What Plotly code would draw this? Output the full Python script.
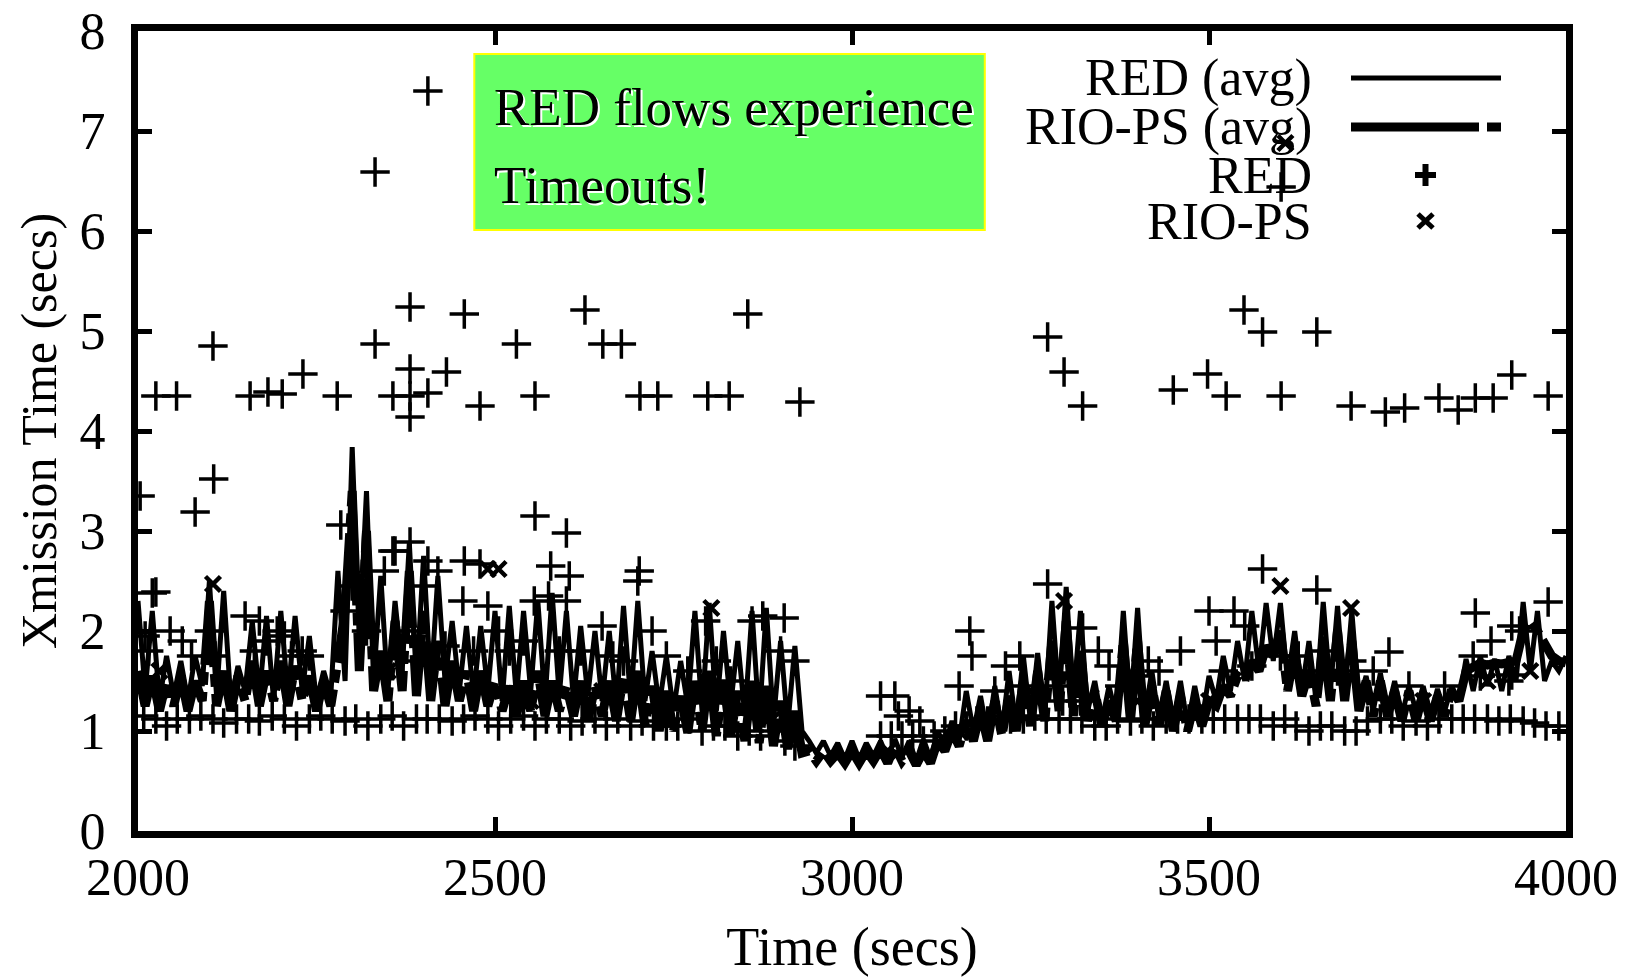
import plotly.graph_objects as go

# ---------------- data ----------------
T_AVG = list(range(2000, 4001, 10))

RED_AVG = [
    2.3, 1.4, 2.2, 1.3, 1.75, 1.35, 1.7, 1.3, 1.75, 1.45,
    2.5, 1.35, 2.4, 1.3, 1.65, 1.4, 2.1, 1.35, 2.15, 1.3,
    2.2, 1.35, 2.15, 1.4, 1.95, 1.3, 1.6, 1.35, 2.6, 1.5,
    3.84, 1.9, 3.4, 1.5, 2.55, 1.4, 2.3, 1.6, 2.88, 1.5,
    2.75, 1.45, 2.55, 1.5, 2.1, 1.4, 2.05, 1.35, 2.05, 1.4,
    2.2, 1.3, 2.25, 1.35, 2.2, 1.4, 2.3, 1.3, 2.38, 1.35,
    2.2, 1.3, 2.05, 1.35, 2.0, 1.3, 2.0, 1.25, 2.25, 1.3,
    2.3, 1.3, 1.8, 1.25, 1.75, 1.2, 1.7, 1.25, 2.2, 1.2,
    2.28, 1.2, 2.0, 1.25, 1.9, 1.15, 2.2, 1.1, 2.23, 1.1,
    1.9, 1.05, 1.85, 1.0, 0.9, 0.78, 0.9, 0.75, 0.88, 0.72,
    0.9, 0.72, 0.88, 0.75, 0.9, 0.72, 0.92, 0.74, 0.9, 0.7,
    0.92, 0.72, 1.0, 0.85, 1.1, 0.9, 1.4, 1.0, 1.35, 0.95,
    1.45, 1.0, 1.6, 1.05, 1.75, 1.1, 1.78, 1.15, 2.3, 1.3,
    2.44, 1.3, 2.2, 1.2, 1.5, 1.1, 1.45, 1.15, 2.2, 1.2,
    2.23, 1.15, 1.6, 1.1, 1.5, 1.1, 1.5, 1.05, 1.45, 1.1,
    1.55, 1.3, 1.75, 1.4, 1.9, 1.5, 2.2, 1.6, 2.28, 1.7,
    2.28, 1.5, 2.0, 1.4, 1.9, 1.3, 2.29, 1.4, 2.25, 1.35,
    2.2, 1.3, 1.55, 1.2, 1.58, 1.2, 1.5, 1.15, 1.45, 1.2,
    1.45, 1.15, 1.42, 1.2, 1.45, 1.3, 1.72, 1.4, 1.75, 1.45,
    1.72, 1.4, 1.75, 1.5, 2.29, 1.6, 2.2, 1.5, 1.7, 1.6,
    1.75,
]

RIO_AVG = [
    1.6, 1.25, 1.55, 1.2, 1.5, 1.25, 1.55, 1.2, 1.5, 1.3,
    2.3, 1.25, 1.6, 1.2, 1.55, 1.3, 1.7, 1.25, 1.6, 1.3,
    1.7, 1.25, 1.65, 1.3, 1.55, 1.2, 1.5, 1.25, 1.7, 2.2,
    3.4, 1.6, 3.0, 1.4, 1.8, 1.3, 2.1, 1.4, 2.6, 1.35,
    2.2, 1.3, 1.9, 1.25, 1.7, 1.3, 1.6, 1.2, 1.6, 1.25,
    1.5, 1.2, 1.45, 1.15, 1.5, 1.2, 1.6, 1.15, 1.5, 1.2,
    1.45, 1.15, 1.5, 1.1, 1.45, 1.15, 1.5, 1.1, 1.55, 1.1,
    1.6, 1.05, 1.45, 1.0, 1.4, 1.0, 1.35, 0.98, 1.5, 1.0,
    1.6, 0.95, 1.5, 0.95, 1.4, 0.9, 1.5, 0.88, 1.45, 0.85,
    1.3, 0.82, 1.2, 0.78, 0.8, 0.7, 0.8, 0.7, 0.78, 0.68,
    0.8, 0.68, 0.8, 0.7, 0.82, 0.68, 0.85, 0.7, 0.8, 0.66,
    0.8, 0.68, 0.9, 0.8, 1.0, 0.85, 1.1, 0.9, 1.2, 0.9,
    1.3, 0.95, 1.35, 1.0, 1.5, 1.05, 1.6, 1.1, 1.9, 1.2,
    2.1, 1.15, 1.8, 1.1, 1.4, 1.05, 1.3, 1.1, 1.9, 1.1,
    1.9, 1.05, 1.45, 1.05, 1.4, 1.0, 1.35, 1.0, 1.3, 1.05,
    1.3, 1.25, 1.45, 1.35, 1.55, 1.5, 1.7, 1.6, 1.85, 1.75,
    2.0, 1.4, 1.8, 1.35, 1.6, 1.25, 1.9, 1.3, 2.0, 1.3,
    1.9, 1.2, 1.5, 1.15, 1.5, 1.15, 1.4, 1.1, 1.4, 1.1,
    1.38, 1.1, 1.35, 1.15, 1.42, 1.3, 1.6, 1.65, 1.68, 1.66,
    1.68, 1.67, 1.68, 1.7, 2.0, 2.1, 2.0, 1.85, 1.75, 1.7,
    1.68,
]

# RED individual samples: timeouts (upper cloud)
RED_TIMEOUT_T = [2025, 2054, 2105, 2106, 2080, 2157, 2182, 2202, 2231, 2279,
                 2332, 2332, 2357, 2381, 2381, 2381, 2381, 2406, 2406, 2432,
                 2457, 2479, 2530, 2556, 2626, 2651, 2677, 2703, 2728, 2798,
                 2828, 2854, 2927, 3274, 3297, 3323, 3450, 3498, 3524, 3549,
                 3575, 3601, 3651, 3699, 3747, 3774, 3822, 3849, 3873, 3898,
                 3924, 3975, 3601, 2003]
RED_TIMEOUT_Y = [4.35, 4.35, 4.85, 3.52, 3.19, 4.35, 4.39, 4.37, 4.57, 4.35,
                 6.59, 4.87, 4.35, 5.24, 4.62, 4.35, 4.14, 7.40, 4.38, 4.59,
                 5.17, 4.25, 4.87, 4.35, 5.21, 4.87, 4.87, 4.35, 4.35, 4.35,
                 4.35, 5.17, 4.29, 4.94, 4.59, 4.25, 4.41, 4.57, 4.35, 5.21,
                 4.99, 4.35, 4.99, 4.25, 4.19, 4.23, 4.33, 4.21, 4.33, 4.33,
                 4.56, 4.35, 6.44, 3.35]

# RED samples in the middle band
RED_MID_T = [2284, 2357, 2381, 2406, 2457, 2479, 2556, 2578, 2600, 2604,
             2702, 3274, 3323, 3575, 3651, 2025, 2905, 3873, 3924, 3975,
             3752, 3924,
             2010, 2015, 2020, 2045, 2062, 2075, 2100, 2108, 2150, 2163,
             2170, 2180, 2195, 2205, 2215, 2230, 2240, 2290, 2300, 2320,
             2345, 2360, 2372, 2385, 2390, 2400, 2420, 2430, 2455, 2470,
             2490, 2505, 2520, 2540, 2555, 2575, 2590, 2600, 2620, 2650,
             2665, 2680, 2700, 2720, 2740, 2770, 2795, 2810, 2830, 2860,
             2875, 2900, 2920, 3040, 3060, 3065, 3080, 3095, 3165, 3168,
             3150, 3200, 3215, 3235, 3240, 3285, 3295, 3320, 3345, 3360,
             3375, 3400, 3415, 3430, 3460, 3500, 3510, 3520, 3535, 3550,
             3560, 3600, 3625, 3640, 3660, 3680, 3700, 3730, 3780, 3830,
             3870, 3880, 3895, 3920, 3935]
RED_MID_Y = [3.06, 2.80, 2.89, 2.70, 2.70, 2.67, 3.15, 2.65, 2.98, 2.55,
             2.60, 2.47, 2.03, 2.62, 2.41, 2.39, 2.13, 2.18, 2.05, 2.29,
             1.79, 1.56,
             1.95, 1.80, 2.38, 2.00, 1.90, 1.75, 2.00, 1.75, 2.15, 1.80,
             2.10, 1.90, 2.00, 1.95, 1.75, 1.80, 1.75, 2.20, 2.45, 2.00,
             2.60, 2.80, 1.90, 2.00, 1.70, 2.45, 2.60, 1.85, 2.30, 1.80,
             2.25, 2.00, 1.80, 1.90, 2.30, 2.35, 1.80, 2.30, 1.80, 2.05,
             1.75, 1.70, 2.50, 2.00, 1.75, 1.60, 2.10, 1.70, 1.50, 2.10,
             2.15, 1.80, 1.70, 1.35, 1.35, 1.15, 1.20, 1.10, 2.00, 1.75,
             1.45, 1.40, 1.65, 1.75, 1.45, 1.45, 1.30, 1.30, 1.80, 1.65,
             1.45, 1.55, 1.70, 1.60, 1.80, 2.20, 1.90, 1.60, 2.20, 2.05,
             1.65, 1.75, 1.75, 1.60, 1.80, 1.60, 1.70, 1.60, 1.45, 1.45,
             1.75, 1.55, 1.90, 1.50, 2.00]

# RED samples along the ~1 s floor
RED_BASE_T = [2008, 2025, 2040, 2055, 2072, 2088, 2105, 2120, 2138, 2155,
              2170, 2188, 2205, 2222, 2240, 2256, 2272, 2290, 2305, 2322,
              2340, 2356, 2372, 2390, 2405, 2422, 2440, 2456, 2472, 2490,
              2505, 2522, 2540, 2556, 2572, 2590, 2606, 2622, 2640, 2656,
              2672, 2690, 2706, 2722, 2740, 2756, 2772, 2790, 2806, 2822,
              2840, 2856, 2872, 2890, 2906, 2920, 3040, 3055, 3070, 3085,
              3100, 3115, 3130, 3145, 3160, 3175, 3190, 3205, 3222, 3240,
              3256, 3272, 3290, 3306, 3322, 3340, 3356, 3372, 3390, 3406,
              3422, 3440, 3456, 3472, 3490, 3506, 3522, 3540, 3556, 3572,
              3590, 3606, 3622, 3640, 3656, 3672, 3690, 3706, 3722, 3740,
              3756, 3772, 3790, 3806, 3822, 3840, 3856, 3872, 3890, 3906,
              3922, 3940, 3956, 3972, 3990]
RED_BASE_Y = [1.15, 1.12, 1.05, 1.12, 1.12, 1.15, 1.12, 1.08, 1.12, 1.12,
              1.10, 1.15, 1.12, 1.05, 1.12, 1.15, 1.12, 1.10, 1.12, 1.05,
              1.12, 1.15, 1.05, 1.12, 1.12, 1.12, 1.10, 1.12, 1.15, 1.12,
              1.05, 1.12, 1.15, 1.05, 1.12, 1.12, 1.05, 1.10, 1.12, 1.05,
              1.12, 1.05, 1.10, 1.05, 1.05, 1.05, 1.12, 1.00, 1.05, 1.05,
              0.95, 1.00, 0.95, 1.00, 0.90, 0.85, 0.95, 0.95, 0.95, 0.95,
              0.90, 0.95, 1.00, 1.05, 1.05, 1.10, 1.10, 1.15, 1.12, 1.12,
              1.15, 1.12, 1.12, 1.12, 1.12, 1.05, 1.05, 1.12, 1.10, 1.12,
              1.05, 1.12, 1.12, 1.12, 1.12, 1.12, 1.12, 1.12, 1.12, 1.12,
              1.05, 1.12, 1.05, 1.00, 1.05, 1.05, 1.00, 1.00, 1.10, 1.12,
              1.12, 1.05, 1.10, 1.05, 1.12, 1.12, 1.12, 1.12, 1.12, 1.10,
              1.12, 1.10, 1.08, 1.05, 1.05]

RIO_T = [2105, 2490, 2505, 2803, 3297, 3600, 3699, 3607,
         2030, 2200, 2350, 2550, 2650, 2900, 3050, 3150, 3250, 3400,
         3500, 3800, 3890, 3950]
RIO_Y = [2.47, 2.62, 2.62, 2.23, 2.30, 2.45, 2.23, 6.88,
         1.60, 1.50, 1.60, 1.30, 1.40, 1.20, 0.80, 1.00, 1.40, 1.30,
         1.30, 1.30, 1.50, 1.60]

X_TICKS = [2000, 2500, 3000, 3500, 4000]
Y_TICKS = [0, 1, 2, 3, 4, 5, 6, 7, 8]
LEGEND_LABELS = ["RED (avg)", "RIO-PS (avg)", "RED", "RIO-PS"]
NOTE_LINES = ["RED flows experience", "Timeouts!"]

# ---------------- figure ----------------
FONT = "Liberation Serif, Times New Roman, serif"
RED_T = RED_TIMEOUT_T + RED_MID_T + RED_BASE_T
RED_Y = RED_TIMEOUT_Y + RED_MID_Y + RED_BASE_Y

fig = go.Figure()
fig.add_trace(go.Scatter(x=T_AVG, y=RED_AVG, mode="lines", name="RED (avg)",
                         line=dict(color="black", width=5)))
fig.add_trace(go.Scatter(x=T_AVG, y=RIO_AVG, mode="lines", name="RIO-PS (avg)",
                         line=dict(color="black", width=9, dash="130px,7px,13px,7px")))
fig.add_trace(go.Scatter(x=RED_T, y=RED_Y, mode="markers", name="RED",
                         marker=dict(symbol="cross-thin", size=21,
                                     line=dict(color="black", width=3.5))))
fig.add_trace(go.Scatter(x=RIO_T, y=RIO_Y, mode="markers", name="RIO-PS",
                         marker=dict(symbol="x-thin", size=15,
                                     line=dict(color="black", width=4.5))))

# plot area in pixels
L, R, T, B = 138, 1566, 31, 831
W, H = 1629, 977


def px(fx):
    return (fx - L) / (R - L)


def py(fy):
    return (B - fy) / (B - T)


shapes = []
annotations = []

# green note box (data coordinates)
shapes.append(dict(type="rect", xref="x", yref="y", x0=2471, x1=3186, y0=6.01, y1=7.77,
                   fillcolor="#66ff66", line=dict(color="#ffff00", width=2), layer="above"))
for txt, yv in zip(NOTE_LINES, [7.24, 6.46]):
    annotations.append(dict(x=2496, y=yv, xref="x", yref="y", text=txt, showarrow=False,
                            xanchor="left", yanchor="middle",
                            font=dict(family=FONT, size=53, color="black",
                                      shadow="2px 2px 0px white")))

# manual legend (text right-aligned, samples on the right)
rows_y = [78, 127, 175, 221]
for lab, fy in zip(LEGEND_LABELS, rows_y):
    annotations.append(dict(x=px(1314), y=py(fy), xref="paper", yref="paper", text=lab,
                            showarrow=False, xanchor="right", yanchor="middle",
                            font=dict(family=FONT, size=52, color="black")))
shapes.append(dict(type="line", xref="paper", yref="paper", x0=px(1351), x1=px(1501),
                   y0=py(78), y1=py(78), line=dict(color="black", width=5)))
shapes.append(dict(type="line", xref="paper", yref="paper", x0=px(1351), x1=px(1479),
                   y0=py(127), y1=py(127), line=dict(color="black", width=9)))
shapes.append(dict(type="line", xref="paper", yref="paper", x0=px(1487), x1=px(1501),
                   y0=py(127), y1=py(127), line=dict(color="black", width=9)))
# + sample
shapes.append(dict(type="line", xref="paper", yref="paper", x0=px(1415), x1=px(1436),
                   y0=py(175), y1=py(175), line=dict(color="black", width=6)))
shapes.append(dict(type="line", xref="paper", yref="paper", x0=px(1425.5), x1=px(1425.5),
                   y0=py(164), y1=py(186), line=dict(color="black", width=6)))
# x sample
shapes.append(dict(type="line", xref="paper", yref="paper", x0=px(1418), x1=px(1433),
                   y0=py(214), y1=py(228), line=dict(color="black", width=5)))
shapes.append(dict(type="line", xref="paper", yref="paper", x0=px(1418), x1=px(1433),
                   y0=py(228), y1=py(214), line=dict(color="black", width=5)))

axis_common = dict(showline=True, linecolor="black", linewidth=7, mirror="allticks",
                   ticks="inside", ticklen=14, tickwidth=5, tickcolor="black",
                   showgrid=False, zeroline=False,
                   tickfont=dict(family=FONT, size=52, color="black"))

fig.update_layout(
    width=W, height=H,
    margin=dict(l=L, r=W - R, t=T, b=H - B, autoexpand=False),
    paper_bgcolor="white", plot_bgcolor="white",
    showlegend=False,
    shapes=shapes, annotations=annotations,
    xaxis=dict(range=[2000, 4000], tickvals=X_TICKS, ticktext=[str(v) for v in X_TICKS],
               ticklabelstandoff=-5,
               title=dict(text="Time (secs)", font=dict(family=FONT, size=54, color="black"),
                          standoff=52),
               **axis_common),
    yaxis=dict(range=[0, 8], tickvals=Y_TICKS, ticktext=[str(v) for v in Y_TICKS],
               ticklabelstandoff=15,
               title=dict(text="Xmission Time (secs)",
                          font=dict(family=FONT, size=50, color="black"), standoff=10),
               **axis_common),
)

fig.write_html("out.html")
